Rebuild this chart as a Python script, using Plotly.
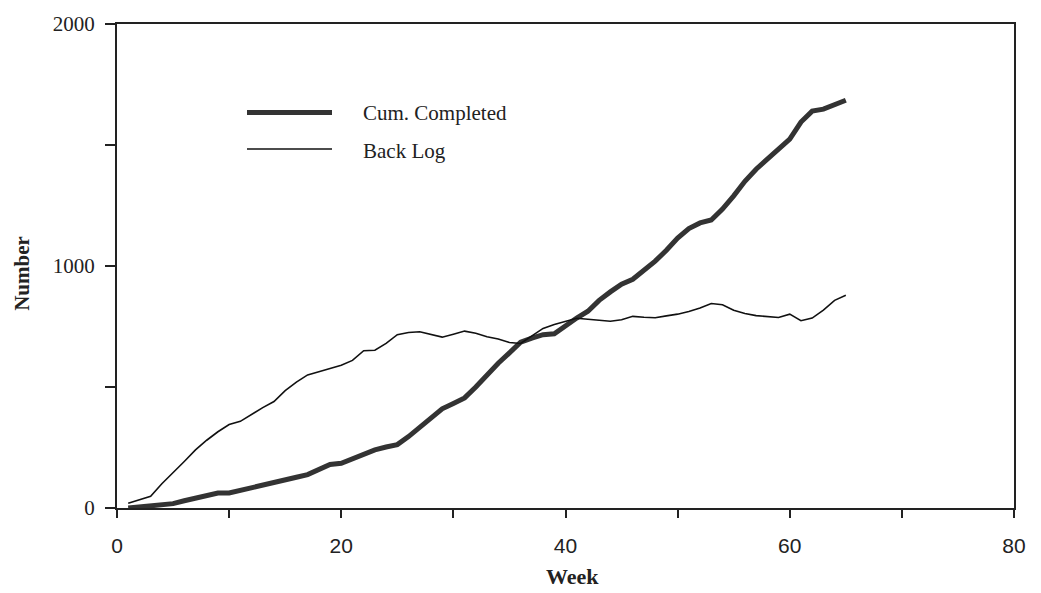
import plotly.graph_objects as go

weeks = list(range(1, 66))

cum_completed = [0, 5, 10, 14, 18, 30, 42, 52, 62, 62,
                 72, 87, 97, 107, 117, 127, 138, 160, 180, 185,
                 203, 222, 240, 252, 262, 295, 333, 370, 410, 432,
                 455, 500, 552, 598, 641, 685, 702, 716, 720, 755,
                 785, 813, 858, 893, 925, 945, 980, 1020, 1065, 1115,
                 1155, 1178, 1190, 1235, 1290, 1350, 1400, 1440, 1480, 1524,
                 1595, 1640, 1648, 1665, 1685]

back_log = [20, 35, 48, 100, 145, 192, 240, 280, 315, 345,
            358, 388, 415, 440, 485, 520, 550, 563, 578, 590,
            610, 650, 652, 680, 716, 725, 728, 718, 706, 718,
            731, 722, 708, 698, 684, 680, 712, 742, 758, 770,
            784, 780, 775, 772, 778, 792, 788, 786, 794, 801,
            812, 826, 845, 840, 817, 804, 795, 790, 787, 801,
            774, 785, 818, 858, 879]

series_names = ["Cum. Completed", "Back Log"]
x_tickvals = [0, 10, 20, 30, 40, 50, 60, 70, 80]
x_ticktext = ["0", "", "20", "", "40", "", "60", "", "80"]
y_tickvals = [0, 500, 1000, 1500, 2000]
y_ticktext = ["0", "", "1000", "", "2000"]

fig = go.Figure()
fig.add_trace(go.Scatter(x=weeks, y=cum_completed, mode="lines", name=series_names[0],
                         line=dict(color="#333333", width=5)))
fig.add_trace(go.Scatter(x=weeks, y=back_log, mode="lines", name=series_names[1],
                         line=dict(color="#111111", width=1.6)))

W, H = 1041, 593
L, R, T, B = 117, 1014, 16, 508
pw, ph = R - L, B - T

def px(xp):
    return (xp - L) / pw

def py(yp):
    return (B - yp) / ph

serif = "Liberation Serif, Times New Roman, serif"
sans = "Liberation Sans, Arial, sans-serif"

shapes = [
    dict(type="line", xref="paper", yref="paper", x0=px(247), x1=px(332), y0=py(106), y1=py(106),
         line=dict(color="#333333", width=5)),
    dict(type="line", xref="paper", yref="paper", x0=px(247), x1=px(332), y0=py(143), y1=py(143),
         line=dict(color="#111111", width=1.6)),
]

annotations = [
    dict(text=series_names[0], xref="paper", yref="paper", x=px(361), y=py(106), xanchor="left",
         yanchor="middle", showarrow=False, font=dict(family=serif, size=21, color="#222")),
    dict(text=series_names[1], xref="paper", yref="paper", x=px(361), y=py(145), xanchor="left",
         yanchor="middle", showarrow=False, font=dict(family=serif, size=21, color="#222")),
    dict(text="<b>Number</b>", xref="paper", yref="paper", x=px(22), y=py(270), xanchor="center",
         yanchor="middle", textangle=-90, showarrow=False, font=dict(family=serif, size=21, color="#222")),
    dict(text="<b>Week</b>", xref="paper", yref="paper", x=px(572), y=py(578), xanchor="center",
         yanchor="middle", showarrow=False, font=dict(family=serif, size=22, color="#222")),
]

fig.update_layout(
    width=W, height=H,
    margin=dict(l=L, r=W - R, t=T, b=H - B, pad=0),
    paper_bgcolor="white", plot_bgcolor="white",
    showlegend=False,
    shapes=shapes, annotations=annotations,
    xaxis=dict(range=[0, 80], tickvals=x_tickvals, ticktext=x_ticktext, ticks="outside",
               ticklen=8, tickwidth=1.5, tickcolor="#222", showline=True, linecolor="#222",
               linewidth=2, mirror=True, showgrid=False, zeroline=False,
               tickfont=dict(family=sans, size=21, color="#222"), ticklabelstandoff=10),
    yaxis=dict(range=[0, 2000], tickvals=y_tickvals, ticktext=y_ticktext, ticks="outside",
               ticklen=10, tickwidth=1.5, tickcolor="#222", showline=True, linecolor="#222",
               linewidth=2, mirror=True, showgrid=False, zeroline=False,
               tickfont=dict(family=serif, size=21, color="#222"), ticklabelstandoff=6),
)

fig.write_html("out.html")
